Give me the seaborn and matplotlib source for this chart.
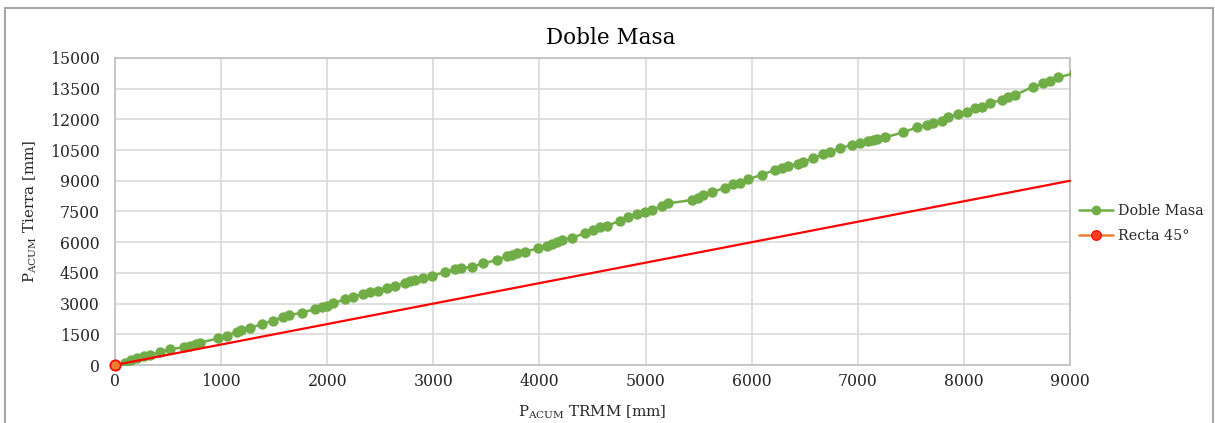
import matplotlib
matplotlib.use("Agg")
import matplotlib.pyplot as plt
from matplotlib.lines import Line2D
from matplotlib.patches import Rectangle
import seaborn as sns

# Cumulative precipitation: TRMM (x) vs ground station (y), mm
p_trmm = [90, 150, 210, 270, 330, 420, 518, 650, 707, 760, 801, 974, 1060, 1147,
          1190, 1272, 1382, 1492, 1586, 1640, 1759, 1885, 1950, 2000, 2057, 2168,
          2246, 2340, 2400, 2482, 2560, 2639, 2733, 2780, 2827, 2906, 2985, 3110,
          3208, 3260, 3361, 3472, 3597, 3691, 3740, 3786, 3864, 3990, 4068, 4116,
          4163, 4210, 4304, 4429, 4508, 4571, 4634, 4759, 4838, 4916, 4995, 5058,
          5152, 5215, 5435, 5490, 5544, 5623, 5749, 5827, 5890, 5969, 6094, 6220,
          6283, 6346, 6440, 6487, 6581, 6676, 6738, 6833, 6943, 7021, 7100, 7140,
          7178, 7257, 7430, 7555, 7650, 7712, 7791, 7853, 7947, 8026, 8105, 8168,
          8246, 8356, 8419, 8482, 8654, 8749, 8812, 8890, 9040]
p_tierra = [110, 220, 330, 420, 489, 620, 766, 870, 928, 1010, 1091, 1303, 1440, 1628,
            1700, 1791, 2003, 2166, 2362, 2430, 2557, 2720, 2830, 2900, 3013, 3208,
            3339, 3469, 3550, 3632, 3746, 3860, 4023, 4090, 4153, 4234, 4348, 4544,
            4674, 4720, 4804, 4967, 5130, 5326, 5390, 5456, 5537, 5700, 5830, 5920,
            5990, 6107, 6221, 6433, 6596, 6726, 6791, 7051, 7247, 7378, 7492, 7573,
            7769, 7899, 8062, 8180, 8306, 8469, 8632, 8843, 8908, 9071, 9300, 9527,
            9608, 9723, 9821, 9935, 10098, 10309, 10423, 10586, 10749, 10863, 10961, 10990,
            11026, 11124, 11368, 11612, 11726, 11807, 11938, 12101, 12264, 12377, 12540, 12622,
            12800, 12947, 13077, 13192, 13598, 13761, 13891, 14054, 14260]

# 45-degree reference line
recta_x = [0, 9000]
recta_y = [0, 9000]

x_ticks = list(range(0, 9001, 1000))
y_ticks = list(range(0, 15001, 1500))

sns.set_theme(style="white")
plt.rcParams["font.family"] = ["DejaVu Serif"]
plt.rcParams["mathtext.fontset"] = "custom"
plt.rcParams["mathtext.rm"] = "DejaVu Serif"

GREEN = "#70AD47"
RED = "#FF0000"
ORANGE = "#ED7D31"
GRID = "#D9D9D9"
FRAME = "#BFBFBF"
TEXT = "#262626"

fig = plt.figure(figsize=(12.15, 4.23), dpi=100)
ax = fig.add_axes([115 / 1215, 1 - 365 / 423, 955 / 1215, 307 / 423])

sns.lineplot(x=p_trmm, y=p_tierra, ax=ax, sort=False, color=GREEN, lw=1.8,
             marker="o", markersize=7.5, markeredgewidth=0, zorder=3)
sns.lineplot(x=recta_x, y=recta_y, ax=ax, sort=False, color=RED, lw=1.6,
             marker="o", markevery=[0], markersize=7.5, markerfacecolor=ORANGE,
             markeredgecolor=RED, markeredgewidth=1.2, zorder=4, clip_on=False)

ax.set_xlim(0, 9000)
ax.set_ylim(0, 15000)
ax.set_xticks(x_ticks)
ax.set_yticks(y_ticks)
ax.tick_params(axis="both", length=0, labelsize=11.3, colors=TEXT)
ax.tick_params(axis="x", pad=6)
ax.tick_params(axis="y", pad=11)
ax.grid(True, color=GRID, lw=1.2)
ax.set_axisbelow(True)
for s in ax.spines.values():
    s.set_visible(True)
    s.set_color(FRAME)
    s.set_linewidth(1.2)

fig.text(611 / 1215, 1 - 38 / 423, "Doble Masa", fontsize=15.5, color="black",
         ha="center", va="center")
ax.set_xlabel(r"P$_{\mathrm{ACUM}}$ TRMM [mm]", fontsize=10.8, color=TEXT)
ax.set_ylabel(r"P$_{\mathrm{ACUM}}$ Tierra [mm]", fontsize=10.8, color=TEXT)
ax.xaxis.set_label_coords(0.5, -0.125)
ax.yaxis.set_label_coords(-0.08, 0.5)

handles = [
    Line2D([], [], color=GREEN, lw=1.8, marker="o", markersize=7, markeredgewidth=0),
    Line2D([], [], color=ORANGE, lw=1.8, marker="o", markersize=7,
           markerfacecolor="#FF3B1F", markeredgecolor=RED, markeredgewidth=0.8),
]
leg = ax.legend(handles, ["Doble Masa", "Recta 45°"], loc="center left",
                bbox_to_anchor=(1.0, 0.46), frameon=False, fontsize=10.3,
                handlelength=2.4, handletextpad=0.35, labelspacing=0.75,
                borderaxespad=0.2)
for t in leg.get_texts():
    t.set_color(TEXT)

# Outer chart border
fig.patches.append(Rectangle((5 / 1215, -0.05), 1208 / 1215, 1.05 - 8 / 423,
                             transform=fig.transFigure, fill=False,
                             edgecolor="#A6A6A6", lw=1.5))

fig.savefig("out.png", dpi=100)
